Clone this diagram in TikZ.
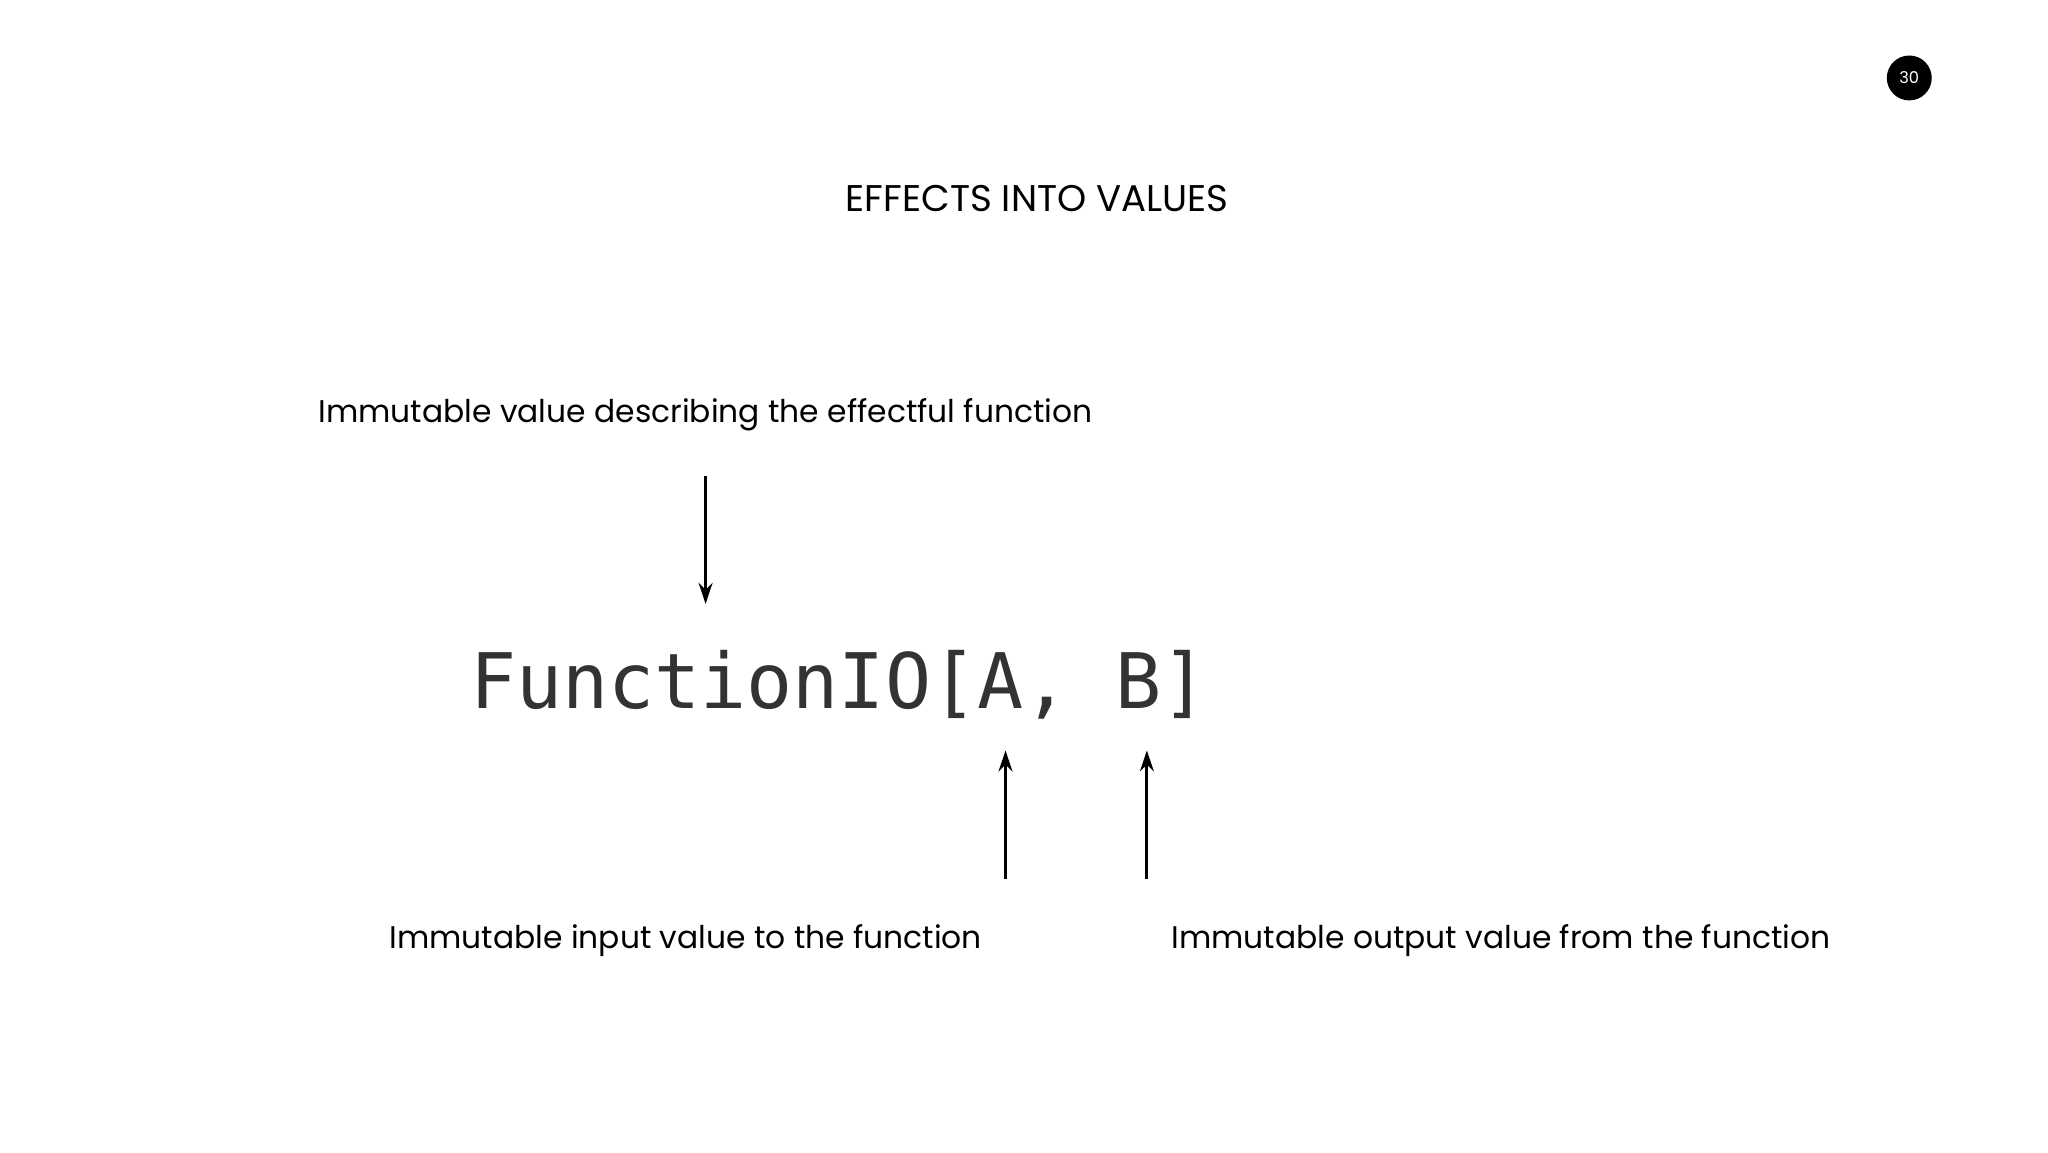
\documentclass[tikz,border=0pt]{standalone}
\usepackage{fontspec}
\setmainfont{Poppins}
\setmonofont{DejaVu Sans Mono}
\usetikzlibrary{arrows.meta}
\definecolor{codegray}{HTML}{333333}
\tikzset{lbl/.style={font=\fontsize{13.5}{16}\selectfont\rmfamily,inner sep=0pt},
 arr/.style={line width=1.3pt,-{Stealth[length=9pt,width=6pt]}}}
\begin{document}
\begin{tikzpicture}[x=0.02cm,y=-0.02cm]
\useasboundingbox (0,0) rectangle (1550,872);
\node[circle,fill=black,minimum size=34*0.02cm,inner sep=0pt,text=white,font=\fontsize{7}{8}\selectfont] (pg) at (1445,59) {30};
\node[font=\fontsize{16}{19}\selectfont,inner sep=0pt] (title) at (785,150) {EFFECTS INTO VALUES};
\node[lbl] (l1) at (534,314) {Immutable value describing the effectful function};
\node[font=\fontsize{33}{38}\selectfont\ttfamily,text=codegray,inner sep=0pt] (code) at (635,518) {FunctionIO[A, B]};
\node[lbl] (l2) at (519,712) {Immutable input value to the function};
\node[lbl] (l3) at (1136,712) {Immutable output value from the function};
\coordinate (a1s) at (534,360); \coordinate (a1e) at (534,457);
\coordinate (a2s) at (761,665); \coordinate (a2e) at (761,568);
\coordinate (a3s) at (868,665); \coordinate (a3e) at (868,568);
\draw[arr] (a1s) -- (a1e);
\draw[arr] (a2s) -- (a2e);
\draw[arr] (a3s) -- (a3e);
\end{tikzpicture}
\end{document}
